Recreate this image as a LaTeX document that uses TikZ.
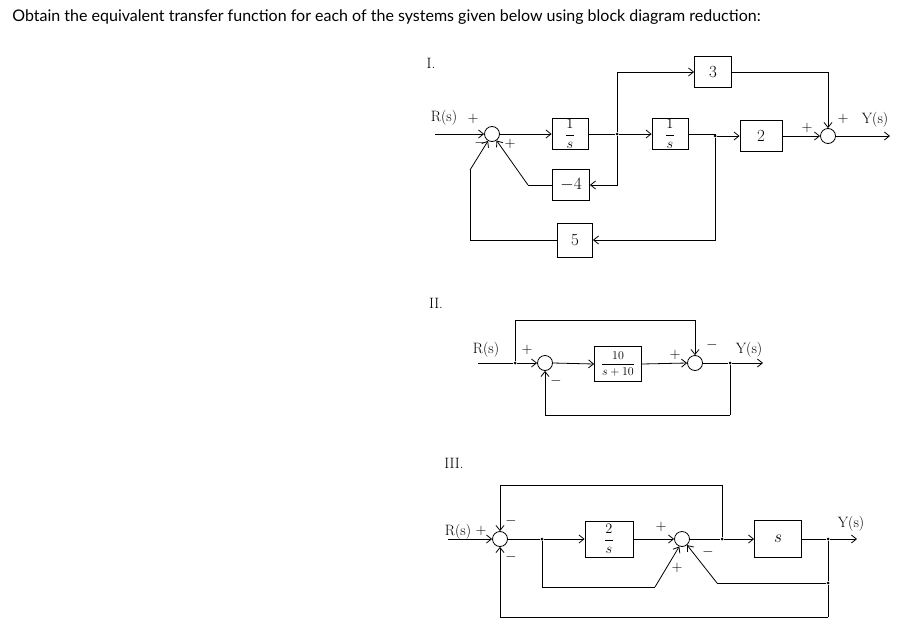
\documentclass[tikz,border=0pt]{standalone}
\usepackage{fontspec}
\newfontfamily\headfont{Lato}
\usetikzlibrary{arrows.meta}
\begin{document}
\begin{tikzpicture}[x=1pt,y=-1pt,
  line width=0.8pt,
  sumj/.style={draw,circle,minimum size=15pt,inner sep=0pt},
  blk/.style={draw,rectangle,inner sep=1pt,minimum width=37pt,minimum height=31pt,font=\fontsize{17}{19}\selectfont},
  arr/.style={-{Straight Barb[length=5pt,width=8pt]}},
  lbl/.style={font=\fontsize{15}{17}\selectfont,inner sep=0pt},
  dot/.style={circle,fill,inner sep=0pt,minimum size=3pt}]
\useasboundingbox[fill=white] (0,0) rectangle (907,643);
\node[anchor=west,font=\headfont\fontsize{16}{19}\selectfont,inner sep=0pt] (head) at (12,17)
  {Obtain the equivalent transfer function for each of the systems given below using block diagram reduction:};

% ---------------- I ----------------
\node[lbl] (t1) at (431,63) {I.};
\coordinate (in1) at (435,134);
\node[sumj] (s1) at (492,134) {};
\node[blk,minimum width=36pt,font=\fontsize{14}{16}\selectfont] (b1) at (570,134) {$\displaystyle\frac{1}{s}$};
\node[dot] (j1) at (617,134) {};
\node[blk] (b3) at (713,72) {3};
\node[blk] (bm4) at (571,185) {$-4$};
\node[blk,minimum width=36pt,font=\fontsize{14}{16}\selectfont] (b1b) at (670,134) {$\displaystyle\frac{1}{s}$};
\node[dot] (j2) at (715,136) {};
\node[blk,minimum width=42pt] (bb2) at (761,136) {2};
\node[sumj] (s2) at (828,136) {};
\coordinate (out1) at (890,136);
\node[blk,minimum width=35pt,minimum height=34pt] (b5) at (575,240) {5};
\coordinate (c4) at (528,185);
\coordinate (c5a) at (470,240);
\coordinate (c5b) at (470,170);
\coordinate (c2t) at (828,72);
\draw[arr] (in1) -- (s1.west);
\draw[arr] (s1.east) -- (b1.west);
\draw (b1.east) -- (j1);
\draw[arr] (j1) -- (b1b.west);
\draw[arr] (j1) |- (b3.west);
\draw (b3.east) -- (c2t);
\draw[arr] (c2t) -- (s2.north);
\draw[arr] (j1) |- (bm4.east);
\draw (bm4.west) -- (c4);
\draw[arr] (c4) -- (s1.-55);
\draw (b1b.east) -| (j2);
\draw[arr] (j2) -- (bb2.west);
\draw[arr] (bb2.east) -- (s2.west);
\draw[arr] (s2.east) -- (out1);
\draw[arr] (j2) |- (b5.east);
\draw (b5.west) -- (c5a) -- (c5b);
\draw[arr] (c5b) -- (s1.-120);
\node[lbl] (r1) at (444,118) {R(s)};
\node[lbl] (p1) at (473,119) {$+$};
\node[lbl] (m1) at (480,143) {$-$};
\node[lbl] (p2) at (510,144) {$+$};
\node[lbl] (p3) at (807,128) {$+$};
\node[lbl] (p4) at (843,119) {$+$};
\node[lbl] (y1) at (875,120) {Y(s)};

% ---------------- II ----------------
\node[lbl] (t2) at (436,303) {II.};
\coordinate (in2) at (478,363);
\node[dot] (j3) at (515,363) {};
\node[sumj] (s3) at (545,363) {};
\node[blk,minimum width=47pt,minimum height=35pt,font=\fontsize{13}{15}\selectfont] (b10) at (618,364) {$\displaystyle\frac{10}{s+10}$};
\node[sumj] (s4) at (695,363) {};
\node[dot] (j4) at (730,363) {};
\coordinate (out2) at (763,363);
\coordinate (c6) at (515,320);
\coordinate (c7) at (730,415);
\draw (in2) -- (j3);
\draw[arr] (j3) -- (s3.west);
\draw[arr] (s3.east) -- (b10.west);
\draw[arr] (b10.east) -- (s4.west);
\draw (s4.east) -- (j4);
\draw[arr] (j4) -- (out2);
\draw (j3) -- (c6);
\draw[arr] (c6) -| (s4.north);
\draw (j4) -- (c7);
\draw[arr] (c7) -| (s3.south);
\node[lbl] (r2) at (486,350) {R(s)};
\node[lbl] (p5) at (527,350) {$+$};
\node[lbl] (m2) at (556,381) {$-$};
\node[lbl] (p6) at (675,355) {$+$};
\node[lbl] (m3) at (712,345) {$-$};
\node[lbl] (y2) at (749,350) {Y(s)};

% ---------------- III ----------------
\node[lbl] (t3) at (454,463) {III.};
\coordinate (in3) at (448,539);
\node[sumj] (s5) at (500,539) {};
\node[dot] (j5) at (542,539) {};
\node[blk,minimum width=48pt,minimum height=36pt,font=\fontsize{15}{17}\selectfont] (b2s) at (609,539) {$\displaystyle\frac{2}{s}$};
\node[sumj] (s6) at (682,539) {};
\node[dot] (j6) at (722,539) {};
\node[blk,minimum width=47pt,minimum height=37pt] (bs) at (778,539) {$s$};
\node[dot] (j7) at (828,539) {};
\coordinate (out3) at (857,539);
\node[dot] (j8) at (828,583) {};
\coordinate (c8) at (722,485);
\coordinate (c9) at (717,583);
\coordinate (c10) at (828,617);
\coordinate (c11) at (542,587);
\coordinate (c12) at (655,587);
\draw[arr] (in3) -- (s5.west);
\draw (s5.east) -- (j5);
\draw[arr] (j5) -- (b2s.west);
\draw[arr] (b2s.east) -- (s6.west);
\draw (s6.east) -- (j6);
\draw[arr] (j6) -- (bs.west);
\draw (bs.east) -- (j7);
\draw[arr] (j7) -- (out3);
\draw (j6) -- (c8);
\draw[arr] (c8) -| (s5.north);
\draw (j7) -- (j8);
\draw (j8) -- (c9);
\draw[arr] (c9) -- (s6.-50);
\draw (j8) -- (c10);
\draw[arr] (c10) -| (s5.south);
\draw (j5) -- (c11) -- (c12);
\draw[arr] (c12) -- (s6.-110);
\node[lbl] (r3) at (458,532) {R(s)};
\node[lbl] (p7) at (481,531) {$+$};
\node[lbl] (m4) at (511,521) {$-$};
\node[lbl] (m5) at (511,557) {$-$};
\node[lbl] (p8) at (661,527) {$+$};
\node[lbl] (p9) at (677,568) {$+$};
\node[lbl] (m6) at (708,552) {$-$};
\node[lbl] (y3) at (851,524) {Y(s)};
\end{tikzpicture}
\end{document}
